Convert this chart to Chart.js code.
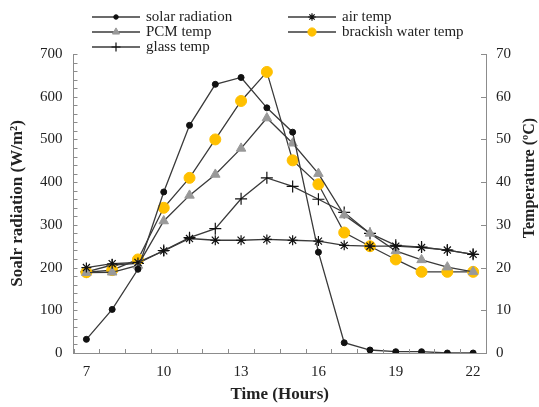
<!DOCTYPE html>
<html>
<head>
<meta charset="utf-8">
<script src="https://cdn.jsdelivr.net/npm/chart.js@4.4.0/dist/chart.umd.min.js"></script>
<style>
  html, body { margin: 0; padding: 0; background: #fff; }
  #wrap { width: 539px; height: 407px; }
</style>
</head>
<body>
<div id="wrap"><canvas id="chart" width="539" height="407"></canvas></div>
<script>
// hours of the day
var hours = ["7", "8", "9", "10", "11", "12", "13", "14", "15", "16", "17", "18", "19", "20", "21", "22"];
// W/m2
var solarRadiation = [32, 102, 196, 377, 533, 629, 645, 574, 517, 236, 24, 7, 3, 3, 0, 0];
// degC
var airTemp = [20, 20.9, 21.2, 23.9, 26.8, 26.4, 26.4, 26.6, 26.4, 26.2, 25.2, 25, 25, 24.7, 24.1, 23.1];
var pcmTemp = [18.8, 18.9, 20.5, 30.9, 36.9, 41.8, 47.9, 55, 49.1, 42, 32.3, 28, 23.9, 21.8, 20.1, 19];
var brackishTemp = [18.9, 19.4, 21.9, 34, 41, 50, 59, 65.8, 45.1, 39.5, 28.2, 25, 21.9, 19, 19, 19];
var glassTemp = [19, 20.6, 21, 24, 27, 29.1, 36.1, 41, 39, 36, 32.9, 28, 25.2, 24.8, 24.1, 23.1];

var serif = "'Liberation Serif', 'DejaVu Serif', serif";
var axisGrey = "#8c8c8c";
var textCol = "#222";

// legend drawn in two columns like the original
var legendPlugin = {
  id: "twoColLegend",
  afterDraw: function (chart) {
    var ctx = chart.ctx;
    var cols = [92, 288];
    var rows = [17, 32, 47];
    chart.data.datasets.forEach(function (ds, i) {
      var x0 = cols[i % 2], y = rows[Math.floor(i / 2)];
      ctx.save();
      ctx.strokeStyle = ds.borderColor;
      ctx.lineWidth = 1.3;
      ctx.beginPath();
      ctx.moveTo(x0, y);
      ctx.lineTo(x0 + 48, y);
      ctx.stroke();
      ctx.fillStyle = ds.pointBackgroundColor;
      ctx.strokeStyle = ds.pointBorderColor;
      ctx.lineWidth = ds.pointBorderWidth;
      Chart.helpers.drawPoint(ctx, { pointStyle: ds.pointStyle, radius: ds.pointRadius * 0.75, rotation: 0, borderWidth: ds.pointBorderWidth }, x0 + 24, y);
      ctx.fillStyle = textCol;
      ctx.font = "15px " + serif;
      ctx.textBaseline = "middle";
      ctx.fillText(ds.label, x0 + 54, y);
      ctx.restore();
    });
  }
};

// inward tick marks and axis titles
var axisExtras = {
  id: "axisExtras",
  afterDraw: function (chart) {
    var ctx = chart.ctx, a = chart.chartArea;
    var y = chart.scales.y, y1 = chart.scales.y1, x = chart.scales.x;
    ctx.save();
    ctx.strokeStyle = axisGrey;
    ctx.lineWidth = 1;
    ctx.beginPath();
    for (var v = 0; v <= 700; v += 20) {
      var py = Math.round(y.getPixelForValue(v)) + 0.5;
      ctx.moveTo(a.left, py); ctx.lineTo(a.left + 4, py);
    }
    for (var t = 0; t <= 70; t += 10) {
      var pt = Math.round(y1.getPixelForValue(t)) + 0.5;
      ctx.moveTo(a.right, pt); ctx.lineTo(a.right - 5, pt);
    }
    for (var i = 0; i <= hours.length; i++) {
      var px = Math.round(x.getPixelForValue(i - 0.5)) + 0.5;
      ctx.moveTo(px, a.bottom); ctx.lineTo(px, a.bottom - 4);
    }
    ctx.stroke();

    ctx.fillStyle = textCol;
    ctx.font = "bold 17px " + serif;
    ctx.textAlign = "center";
    ctx.textBaseline = "middle";
    ctx.fillText("Time (Hours)", (a.left + a.right) / 2, 395);
    ctx.save();
    ctx.translate(18, (a.top + a.bottom) / 2);
    ctx.rotate(-Math.PI / 2);
    ctx.fillText("Soalr radiation (W/m²)", 0, 0);
    ctx.restore();
    ctx.font = "bold 16px " + serif;
    ctx.save();
    ctx.translate(530, 178);
    ctx.rotate(-Math.PI / 2);
    ctx.fillText("Temperature (ºC)", 0, 0);
    ctx.restore();
    ctx.restore();
  }
};

function series(label, data, axis, style, radius, fill, stroke, bw) {
  return {
    label: label,
    data: data,
    yAxisID: axis,
    borderColor: "#3a3a3a",
    borderWidth: 1.3,
    pointStyle: style,
    pointRadius: radius,
    pointHoverRadius: radius,
    pointBackgroundColor: fill,
    pointBorderColor: stroke,
    pointBorderWidth: bw,
    tension: 0,
    fill: false
  };
}

new Chart(document.getElementById("chart"), {
  type: "line",
  data: {
    labels: hours,
    datasets: [
      series("solar radiation", solarRadiation, "y", "circle", 3, "#111", "#111", 1),
      series("air temp", airTemp, "y1", "star", 5, "#111", "#111", 1.2),
      series("PCM temp", pcmTemp, "y1", "triangle", 5.5, "#999999", "#999999", 1),
      series("brackish water temp", brackishTemp, "y1", "circle", 5.5, "#ffc000", "#ffc000", 1),
      series("glass temp", glassTemp, "y1", "cross", 6, "#111", "#111", 1.2)
    ]
  },
  options: {
    responsive: false,
    animation: false,
    layout: { padding: { top: 54, left: 29, right: 18, bottom: 16 } },
    plugins: { legend: { display: false }, tooltip: { enabled: false } },
    scales: {
      x: {
        offset: true,
        grid: { display: false, drawTicks: false },
        border: { display: true, color: axisGrey, width: 1 },
        ticks: {
          autoSkip: false,
          maxRotation: 0,
          padding: 10,
          color: textCol,
          font: { family: serif, size: 15 },
          callback: function (v, i) { return i % 3 === 0 ? hours[i] : ""; }
        }
      },
      y: {
        position: "left",
        min: 0, max: 700,
        grid: { display: false, drawTicks: false },
        border: { display: true, color: axisGrey, width: 1 },
        ticks: { stepSize: 100, padding: 11, color: textCol, font: { family: serif, size: 15 } }
      },
      y1: {
        position: "right",
        min: 0, max: 70,
        grid: { display: false, drawTicks: false },
        border: { display: true, color: axisGrey, width: 1 },
        ticks: { stepSize: 10, padding: 10, color: textCol, font: { family: serif, size: 15 } }
      }
    }
  },
  plugins: [legendPlugin, axisExtras]
});
</script>
</body>
</html>
